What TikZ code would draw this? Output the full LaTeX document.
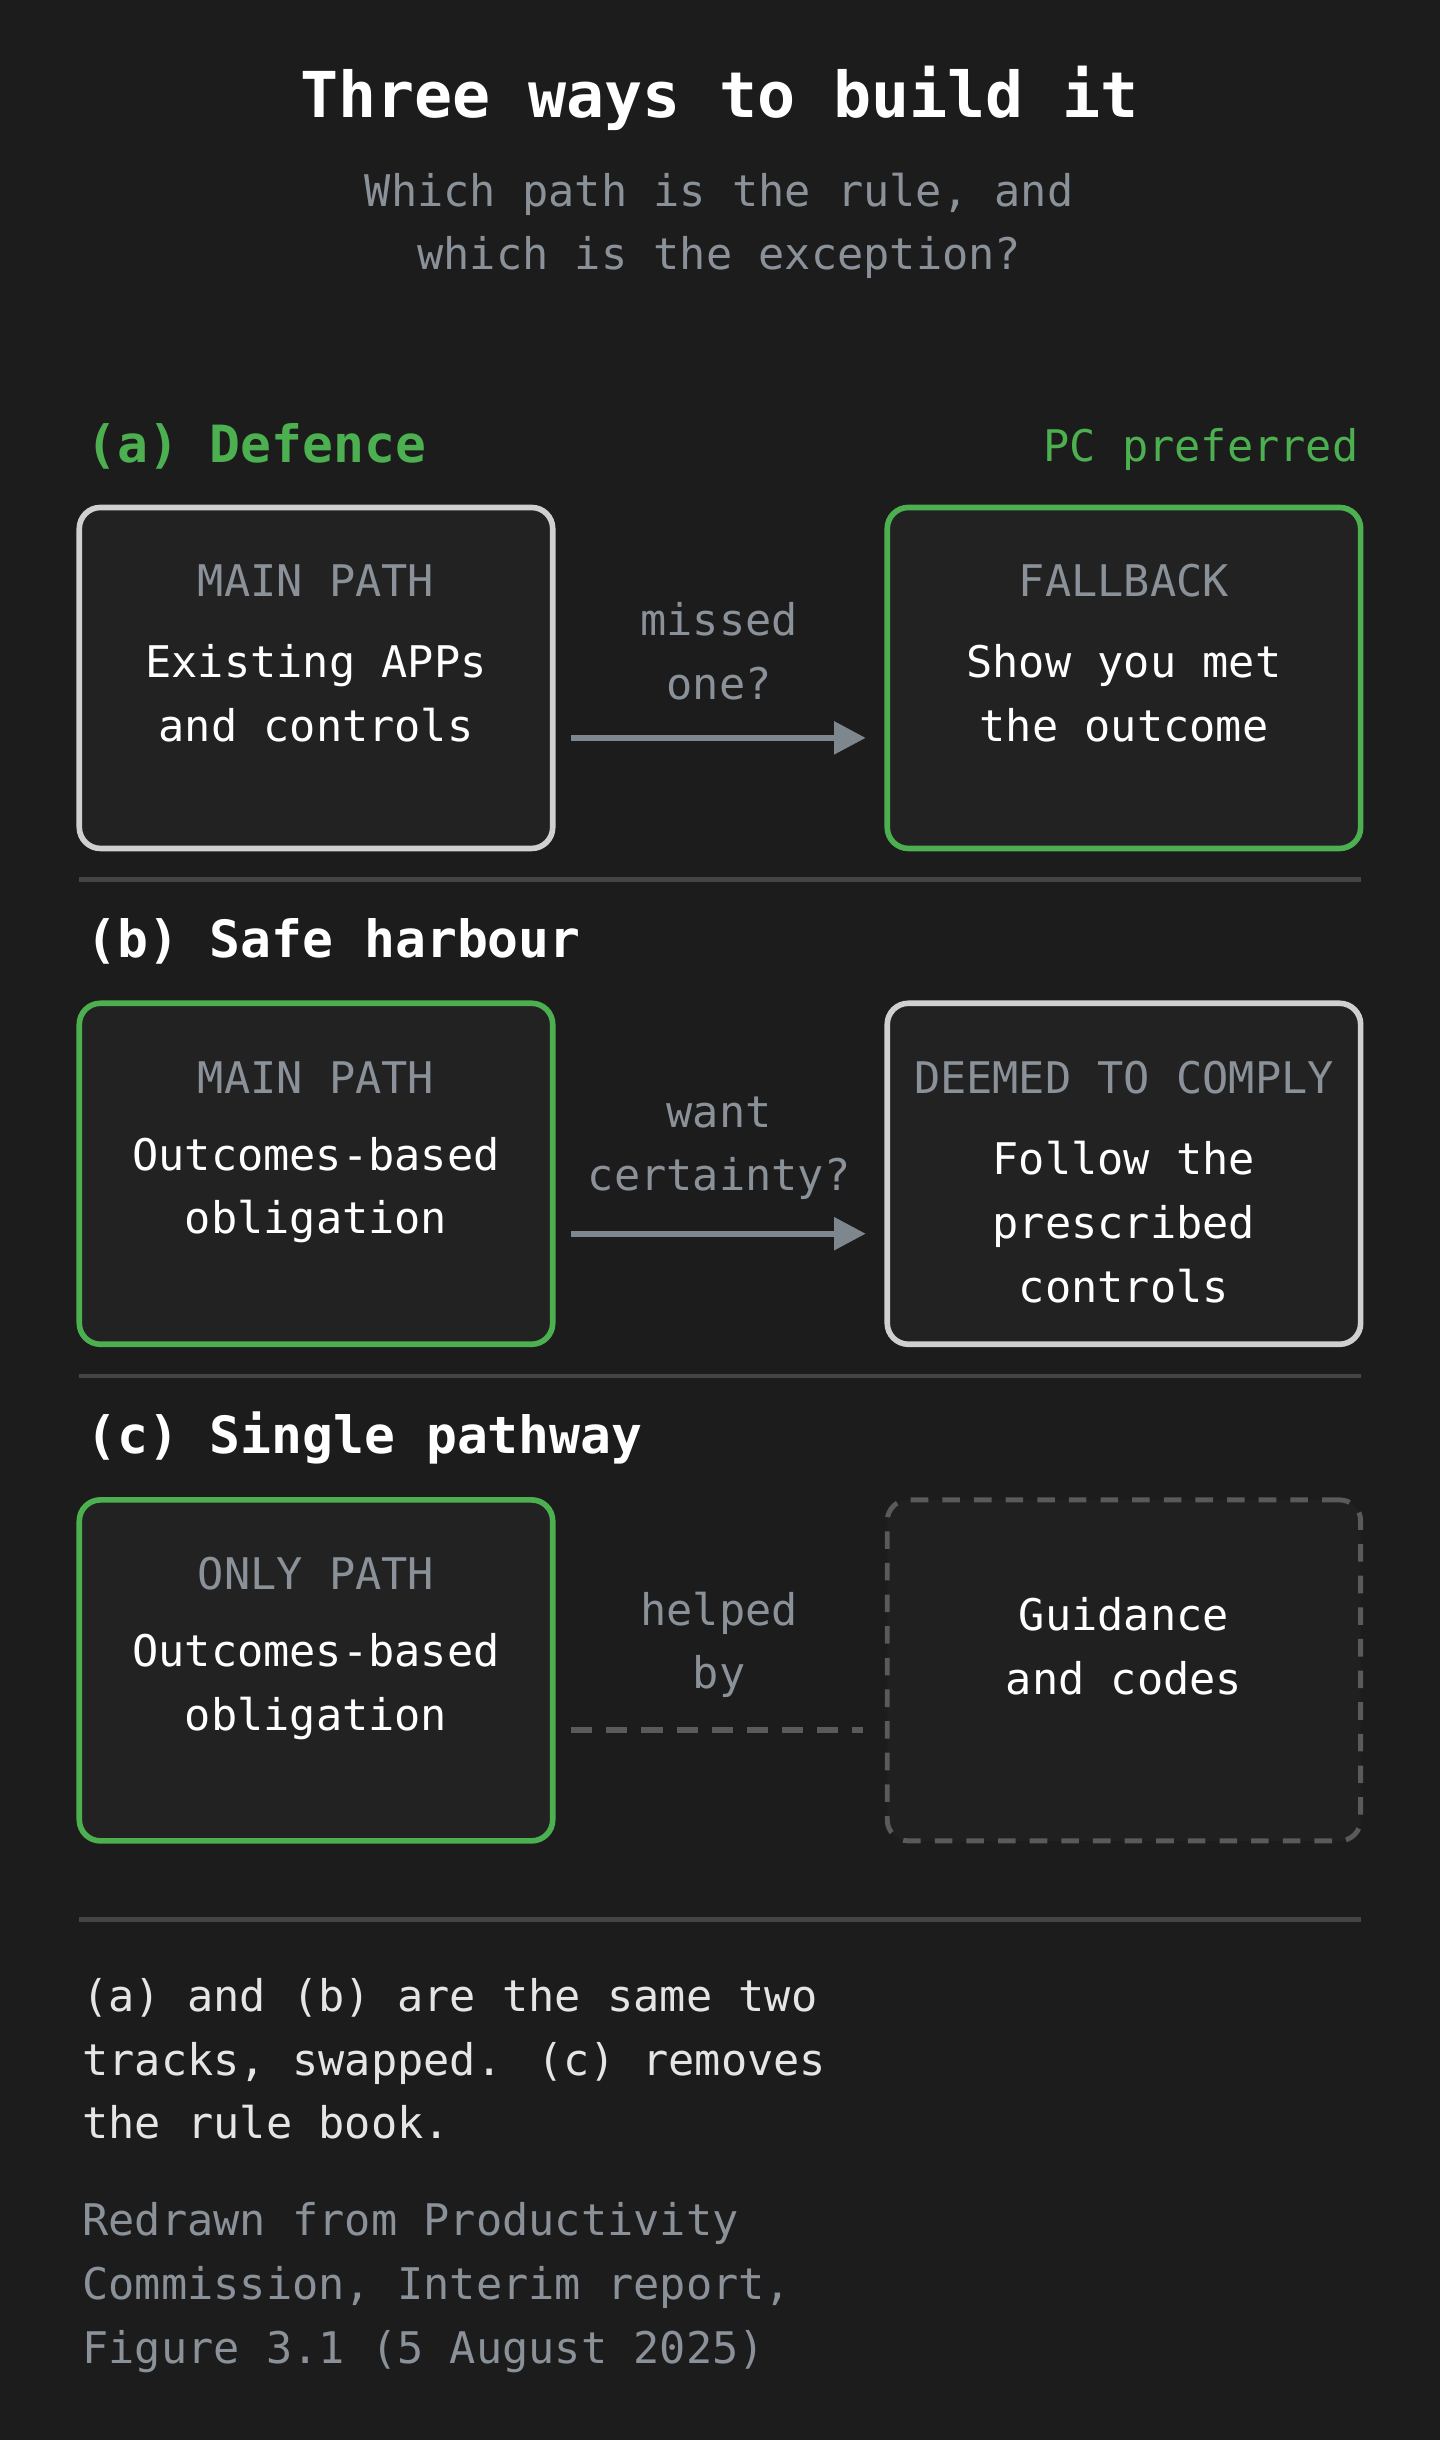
\documentclass[tikz,border=0pt]{standalone}
\usepackage{fontspec}
\setmainfont{DejaVu Sans Mono}
\setmonofont{DejaVu Sans Mono}
\usetikzlibrary{arrows.meta,positioning}
\definecolor{bg}{HTML}{1C1C1C}
\definecolor{boxfill}{HTML}{222222}
\definecolor{dim}{HTML}{8A9199}
\definecolor{okgreen}{HTML}{4CAF50}
\definecolor{rulegray}{HTML}{444444}
\definecolor{dashgray}{HTML}{5A5A5A}
\definecolor{edgegray}{HTML}{D0D0D0}
\definecolor{arrowgray}{HTML}{7E878D}
\tikzset{
  card/.style={draw=#1,line width=1.6pt,rounded corners=6pt,fill=boxfill,minimum width=4.733cm,minimum height=3.409cm,inner sep=0pt},
  tag/.style={text=dim,font=\fontsize{12.4}{18.1}\selectfont},
  body/.style={text=white,align=center,font=\fontsize{12.4}{18.1}\selectfont},
  heading/.style={font=\fontsize{14.6}{18}\selectfont\bfseries,anchor=west,inner sep=0pt},
  note/.style={align=left,anchor=north west,font=\fontsize{12.4}{18.1}\selectfont},
  link/.style={draw=arrowgray,line width=1.8pt,-{Triangle[length=9pt,width=9pt]}},
  divider/.style={draw=rulegray,line width=1.2pt}
}
\begin{document}
\begin{tikzpicture}[x=0.015568cm,y=-0.015568cm]
\useasboundingbox[fill=bg] (0,0) rectangle (925,1567.4);

% title
\node[text=white,font=\fontsize{18}{22}\selectfont\bfseries] (title) at (462,63) {Three ways to build it};
\node[body,text=dim] (sub) at (462,145) {Which path is the rule, and\\which is the exception?};

% (a) defence
\node[heading,text=okgreen] (headA) at (55,287) {(a) Defence};
\node[anchor=east,inner sep=0pt,text=okgreen,font=\fontsize{12.4}{18}\selectfont] (pref) at (873,289) {PC preferred};
\node[card=edgegray] (aMain) at (203,435.5) {};
\node[card=okgreen] (aFall) at (722,435.5) {};
\node[tag] (aMainTag) at (203,373) {MAIN PATH};
\node[body] (aMainTxt) at (203,445.5) {Existing APPs\\and controls};
\node[tag] (aFallTag) at (722,373) {FALLBACK};
\node[body] (aFallTxt) at (722,445.5) {Show you met\\the outcome};
\node[body,text=dim] (aAsk) at (462,418.5) {missed\\one?};
\draw[link] ([shift={(10,38.5)}]aMain.east) -- ([shift={(-12,38.5)}]aFall.west);
\draw[divider] (51,565) -- (874,565);

% (b) safe harbour
\node[heading,text=white] (headB) at (55,605) {(b) Safe harbour};
\node[card=okgreen] (bMain) at (203,754) {};
\node[card=edgegray] (bAlt) at (722,754) {};
\node[tag] (bMainTag) at (203,692) {MAIN PATH};
\node[body] (bMainTxt) at (203,764.5) {Outcomes-based\\obligation};
\node[tag] (bAltTag) at (722,692) {DEEMED TO COMPLY};
\node[body] (bAltTxt) at (722,785) {Follow the\\prescribed\\controls};
\node[body,text=dim] (bAsk) at (462,737.5) {want\\certainty?};
\draw[link] ([shift={(10,38.5)}]bMain.east) -- ([shift={(-12,38.5)}]bAlt.west);
\draw[divider] (51,884) -- (874,884);

% (c) single pathway
\node[heading,text=white] (headC) at (55,924) {(c) Single pathway};
\node[card=okgreen] (cMain) at (203,1073) {};
\node[card=dashgray,dash pattern=on 5pt off 4pt,line width=1.4pt,fill=boxfill!70!bg] (cAid) at (722,1073) {};
\node[tag] (cMainTag) at (203,1011) {ONLY PATH};
\node[body] (cMainTxt) at (203,1083.5) {Outcomes-based\\obligation};
\node[body] (cAidTxt) at (722,1057.5) {Guidance\\and codes};
\node[body,text=dim] (cAsk) at (462,1056.5) {helped\\by};
\draw[draw=dashgray,line width=1.8pt,dash pattern=on 6pt off 4pt] ([shift={(10,38.5)}]cMain.east) -- ([shift={(-14,38.5)}]cAid.west);
\draw[divider] (51,1233) -- (874,1233);

% notes
\node[note,text=white!90!black] (summary) at (45,1263) {(a) and (b) are the same two\\tracks, swapped. (c) removes\\the rule book.};
\node[note,text=dim] (source) at (45,1407) {Redrawn from Productivity\\Commission, Interim report,\\Figure 3.1 (5 August 2025)};
\end{tikzpicture}
\end{document}
